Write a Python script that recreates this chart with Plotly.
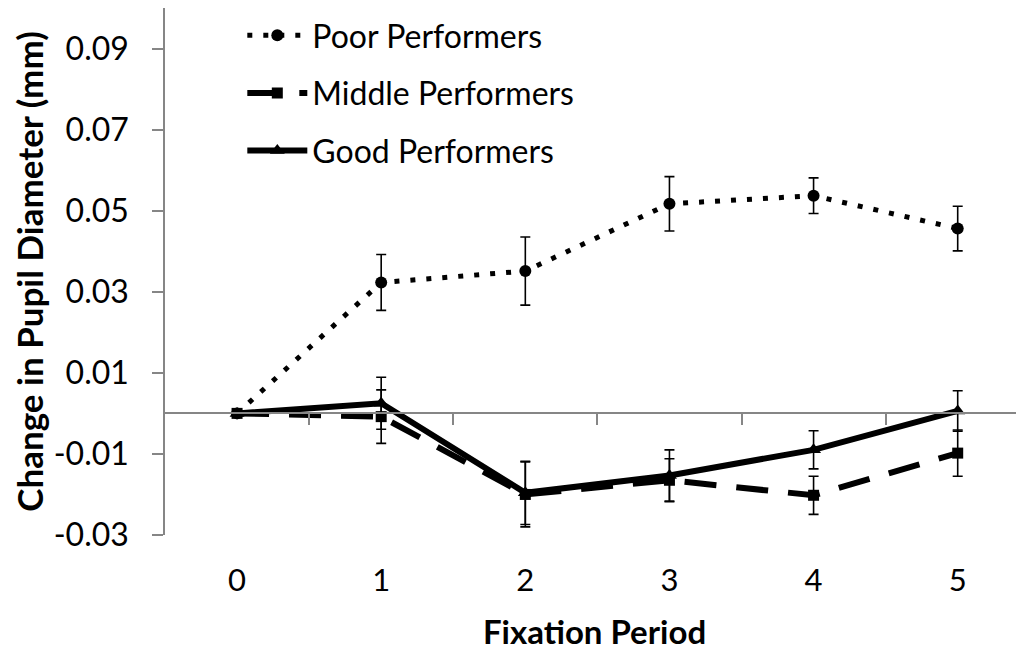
import plotly.graph_objects as go

periods = [0, 1, 2, 3, 4, 5]

poor = [0.0, 0.0323, 0.0351, 0.0517, 0.0537, 0.0456]
poor_err = [0.0, 0.0069, 0.0084, 0.0067, 0.0044, 0.0055]

middle = [0.0, -0.0008, -0.0200, -0.0165, -0.0202, -0.0098]
middle_err = [0.0, 0.0066, 0.0080, 0.0053, 0.0047, 0.0057]

good = [0.0, 0.0025, -0.0196, -0.0153, -0.0090, 0.0006]
good_err = [0.0, 0.0064, 0.0078, 0.0063, 0.0047, 0.0050]

y_ticks = [-0.03, -0.01, 0.01, 0.03, 0.05, 0.07, 0.09]
y_tick_text = ["-0.03", "-0.01", "0.01", "0.03", "0.05", "0.07", "0.09"]
x_between = [0.5, 1.5, 2.5, 3.5, 4.5]

FONT = "Lato"
AX = "#868686"

fig = go.Figure()

def err(arr):
    return dict(type="data", array=arr, visible=True, color="black",
                thickness=1.6, width=5)

fig.add_trace(go.Scatter(
    x=periods, y=poor, name="Poor Performers", mode="lines+markers",
    line=dict(color="black", width=5, dash="5px,11px"),
    marker=dict(symbol="circle", size=12, color="black"),
    error_y=err(poor_err), legendgroup="a"))
fig.add_trace(go.Scatter(
    x=periods, y=middle, name="Middle Performers", mode="lines+markers",
    line=dict(color="black", width=6, dash="32px,20px"),
    marker=dict(symbol="square", size=11, color="black"),
    error_y=err(middle_err), legendgroup="b"))
fig.add_trace(go.Scatter(
    x=periods, y=good, name="Good Performers", mode="lines+markers",
    line=dict(color="black", width=6),
    marker=dict(symbol="triangle-up", size=13, color="black"),
    error_y=err(good_err), legendgroup="c"))

fig.update_layout(
    width=1016, height=646,
    margin=dict(l=157, r=0, t=0, b=119),
    paper_bgcolor="white", plot_bgcolor="white",
    font=dict(family=FONT, size=32, color="black"),
    showlegend=True,
    legend=dict(x=0.09, y=1.0, xanchor="left", yanchor="top",
                bgcolor="rgba(0,0,0,0)", font=dict(size=32, family=FONT),
                tracegroupgap=13, itemwidth=60),
    xaxis=dict(range=[-0.5, 5.46], tickvals=periods,
               ticktext=[str(p) for p in periods],
               showline=False, showgrid=False, zeroline=False,
               ticks="", ticklabelstandoff=24,
               tickfont=dict(size=31, family=FONT),
               title=dict(text="<b>Fixation Period</b>", standoff=23,
                          font=dict(size=33, family=FONT))),
    xaxis2=dict(overlaying="x", anchor="free", position=0.03 / 0.13,
                range=[-0.5, 5.46], tickvals=x_between,
                showticklabels=False, showline=True, linecolor=AX,
                linewidth=1.5, ticks="outside", ticklen=11, tickcolor=AX,
                tickwidth=1.5, showgrid=False, zeroline=False),
    yaxis=dict(range=[-0.03, 0.1], tickvals=y_ticks, ticktext=y_tick_text,
               showline=True, linecolor=AX, linewidth=1.5,
               ticks="outside", ticklen=11, tickcolor=AX, tickwidth=1.5,
               showgrid=False, zeroline=False, ticklabelstandoff=17,
               tickfont=dict(size=32, family=FONT),
               title=dict(text="<b>Change in Pupil Diameter (mm)</b>",
                          standoff=13, font=dict(size=35, family=FONT))),
)

fig.add_trace(go.Scatter(x=[None], y=[None], xaxis="x2", showlegend=False,
                         hoverinfo="skip"))

fig.write_html("out.html")
